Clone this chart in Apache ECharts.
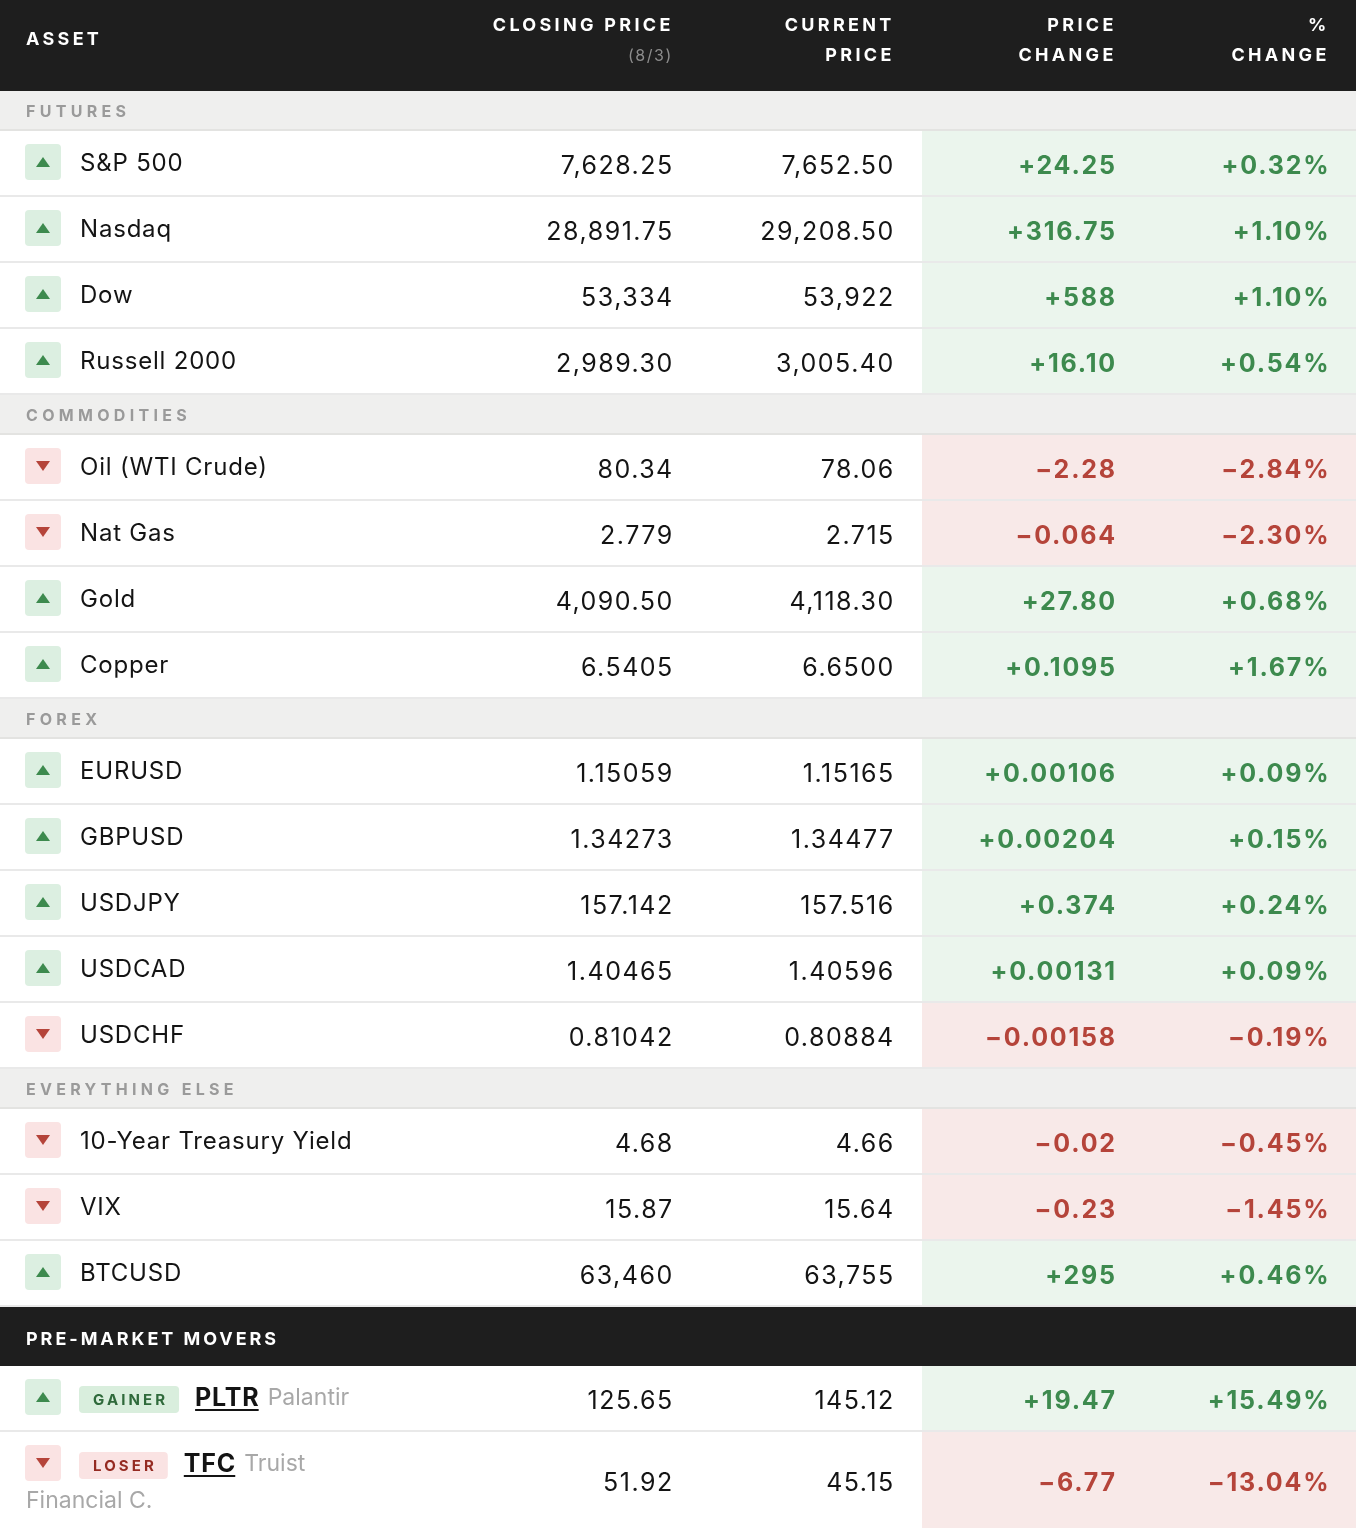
<!DOCTYPE html>
<html><head><meta charset="utf-8">
<script src="https://cdn.jsdelivr.net/npm/echarts@6/dist/echarts.min.js"></script>
<style>html,body{margin:0;padding:0;background:#fff}#chart{width:1356px;height:1528px}</style>
</head><body><div id="chart"></div>
<script>
// ---------------- DATA ----------------
const columnHeaders = [['ASSET'], ['CLOSING PRICE', '(8/3)'], ['CURRENT', 'PRICE'], ['PRICE', 'CHANGE'], ['%', 'CHANGE']];
const sectionNames = ['FUTURES', 'COMMODITIES', 'FOREX', 'EVERYTHING ELSE'];
const sectionSizes = [4, 4, 5, 3];
const assetNames = ['S&P 500', 'Nasdaq', 'Dow', 'Russell 2000', 'Oil (WTI Crude)', 'Nat Gas', 'Gold', 'Copper',
  'EURUSD', 'GBPUSD', 'USDJPY', 'USDCAD', 'USDCHF', '10-Year Treasury Yield', 'VIX', 'BTCUSD'];
const closingPrice = [7628.25, 28891.75, 53334, 2989.30, 80.34, 2.779, 4090.50, 6.5405,
  1.15059, 1.34273, 157.142, 1.40465, 0.81042, 4.68, 15.87, 63460];
const currentPrice = [7652.50, 29208.50, 53922, 3005.40, 78.06, 2.715, 4118.30, 6.6500,
  1.15165, 1.34477, 157.516, 1.40596, 0.80884, 4.66, 15.64, 63755];
const priceChange = [24.25, 316.75, 588, 16.10, -2.28, -0.064, 27.80, 0.1095,
  0.00106, 0.00204, 0.374, 0.00131, -0.00158, -0.02, -0.23, 295];
const pctChange = [0.32, 1.10, 1.10, 0.54, -2.84, -2.30, 0.68, 1.67,
  0.09, 0.15, 0.24, 0.09, -0.19, -0.45, -1.45, 0.46];
const priceDecimals = [2, 2, 0, 2, 2, 3, 2, 4, 5, 5, 3, 5, 5, 2, 2, 0];

const moversTitle = 'PRE-MARKET MOVERS';
const moverTags = ['GAINER', 'LOSER'];
const moverTickers = ['PLTR', 'TFC'];
const moverCompanies = ['Palantir', 'Truist Financial C.'];
const moverClosing = [125.65, 51.92];
const moverCurrent = [145.12, 45.15];
const moverChange = [19.47, -6.77];
const moverPct = [15.49, -13.04];
const moverDecimals = [2, 2];

// ---------------- STYLE / LAYOUT ----------------
const W = 1356, H = 1528;
const FONT = "Inter, 'Noto Sans', 'DejaVu Sans', sans-serif";
const HEADER_H = 91, SECTION_H = 40, ROW_H = 66, MOVERS_HEAD_H = 59, MOVER_ROW_H = [66, 97];
const COL_RIGHT = [672, 893, 1115, 1328];
const VAL_RIGHT = [673, 894, 1116, 1329.5];
const CHANGE_BG_X = 922;
const C = {
  dark: '#1e1e1e', section: '#efefee', sectionLine: '#e3e3e1', rowLine: '#e9e9e9',
  text: '#141414', grey: '#9a9a9a', company: '#a8a8a8', sub: '#8c8c8c',
  up: '#3d8a4e', upBg: '#ebf5ed', upIcon: '#dcefe1', upTag: '#2f6a3b', upTagBg: '#d9eedd',
  down: '#b5443a', downBg: '#f8e9e8', downIcon: '#fae3e3', downTag: '#952b22', downTagBg: '#fae3e3'
};
// letter spacing (tracking) per style, px
const TRACK = { header: 3.3, sub: 1.5, section: 4.3, movers: 2.95, tag: 3.1, name: 0.8, num: 1.5, chg: 1.8, ticker: 0.8, plain: 0.01 };

// canvas letter-spacing for tracked text (each text stays one real string)
const LS = new Map();
function tracked(s, px) { LS.set(s, px); return s; }
const _fill = CanvasRenderingContext2D.prototype.fillText;
CanvasRenderingContext2D.prototype.fillText = function (t, x, y, mw) {
  const ls = LS.has(String(t)) ? LS.get(String(t)) : TRACK.plain;
  let dx = 0;
  if ('letterSpacing' in this) {
    this.letterSpacing = ls + 'px';
    if (this.textAlign === 'right' || this.textAlign === 'end') dx = ls * 0.5;
  }
  return (mw === undefined) ? _fill.call(this, t, x + dx, y) : _fill.call(this, t, x + dx, y, mw);
};

const mctx = document.createElement('canvas').getContext('2d');
function textW(txt, font, ls) { mctx.font = font; return mctx.measureText(txt).width + (ls || 0) * Math.max(0, txt.length - 1); }
function fmt(v, d) { return Math.abs(v).toLocaleString('en-US', { minimumFractionDigits: d, maximumFractionDigits: d }); }
function signed(v, d) { return (v >= 0 ? '+' : '\u2212') + fmt(v, d); }

// build row list
const rows = [];
let yy = 0;
rows.push({ kind: 'header', y0: 0, y1: HEADER_H }); yy = HEADER_H;
let ai = 0;
sectionNames.forEach((s, si) => {
  rows.push({ kind: 'section', label: s, y0: yy, y1: yy + SECTION_H }); yy += SECTION_H;
  for (let k = 0; k < sectionSizes[si]; k++, ai++) {
    rows.push({ kind: 'asset', i: ai, y0: yy, y1: yy + ROW_H }); yy += ROW_H;
  }
});
rows.push({ kind: 'moversHead', y0: yy, y1: yy + MOVERS_HEAD_H }); yy += MOVERS_HEAD_H;
moverTickers.forEach((t, m) => { rows.push({ kind: 'mover', i: m, y0: yy, y1: yy + MOVER_ROW_H[m] }); yy += MOVER_ROW_H[m]; });

function txt(x, y, text, opt) {
  return { type: 'text', style: Object.assign({ x, y, text, fill: C.text, fontFamily: FONT, fontSize: 24, fontWeight: 400, align: 'left', verticalAlign: 'middle' }, opt || {}) };
}
function icon(x, cy, up) {
  const els = [{ type: 'rect', shape: { x: x, y: cy - 18, width: 36, height: 36, r: 4 }, style: { fill: up ? C.upIcon : C.downIcon } }];
  const tx = x + 18;
  const pts = up ? [[tx - 7, cy + 5], [tx + 7, cy + 5], [tx, cy - 5]] : [[tx - 7, cy - 5], [tx + 7, cy - 5], [tx, cy + 5]];
  els.push({ type: 'polygon', shape: { points: pts }, style: { fill: up ? C.up : C.down } });
  return els;
}
const NUM = { fontSize: 25, align: 'right' };

function valueCells(X, cy, closeV, curV, chgV, pctV, d) {
  const up = chgV >= 0;
  const cf = { align: 'right', fontWeight: 700, fontSize: 25, fill: up ? C.up : C.down };
  return [
    txt(X(VAL_RIGHT[0]), cy + 2.5, tracked(fmt(closeV, d), TRACK.num), NUM),
    txt(X(VAL_RIGHT[1]), cy + 2.5, tracked(fmt(curV, d), TRACK.num), NUM),
    txt(X(VAL_RIGHT[2]), cy + 2.5, tracked(signed(chgV, d), TRACK.chg), cf),
    txt(X(VAL_RIGHT[3]), cy + 2.5, tracked(signed(pctV, 2) + '%', TRACK.chg), cf)
  ];
}

function renderItem(params, api) {
  const r = rows[api.value(3)];
  const X = v => api.coord([v, 0])[0];
  const Y = v => api.coord([0, v])[1];
  const x0 = X(0), x1 = X(W), y0 = Y(api.value(1)), y1 = Y(api.value(2));
  let els = [];
  if (r.kind === 'header') {
    els.push({ type: 'rect', shape: { x: x0, y: y0, width: x1 - x0, height: y1 - y0 }, style: { fill: C.dark } });
    const hf = { fill: '#ffffff', fontWeight: 700, fontSize: 18 };
    els.push(txt(X(26), Y(40), tracked(columnHeaders[0][0], TRACK.header), hf));
    for (let c = 1; c < columnHeaders.length; c++) {
      const lines = columnHeaders[c];
      els.push(txt(X(COL_RIGHT[c - 1]), Y(25.5), tracked(lines[0], TRACK.header), Object.assign({}, hf, { align: 'right' })));
      if (c === 1) {
        els.push(txt(X(COL_RIGHT[0]), Y(56), tracked(lines[1], TRACK.sub), { fill: C.sub, fontSize: 16, align: 'right' }));
      } else {
        els.push(txt(X(COL_RIGHT[c - 1]), Y(55.5), tracked(lines[1], TRACK.header), Object.assign({}, hf, { align: 'right' })));
      }
    }
  } else if (r.kind === 'section') {
    els.push({ type: 'rect', shape: { x: x0, y: y0, width: x1 - x0, height: y1 - y0 }, style: { fill: C.section } });
    els.push({ type: 'rect', shape: { x: x0, y: y1 - 2, width: x1 - x0, height: 2 }, style: { fill: C.sectionLine } });
    els.push(txt(X(26), (y0 + y1) / 2 + 1.5, tracked(r.label, TRACK.section), { fill: C.grey, fontWeight: 700, fontSize: 16 }));
  } else if (r.kind === 'asset') {
    const i = r.i, up = priceChange[i] >= 0, cy = (y0 + y1) / 2;
    els.push({ type: 'rect', shape: { x: X(CHANGE_BG_X), y: y0, width: x1 - X(CHANGE_BG_X), height: y1 - y0 }, style: { fill: up ? C.upBg : C.downBg } });
    els.push({ type: 'rect', shape: { x: x0, y: y1 - 2, width: x1 - x0, height: 2 }, style: { fill: C.rowLine } });
    icon(X(25), cy - 2, up).forEach(e => els.push(e));
    els.push(txt(X(80), cy - 0.5, tracked(assetNames[i], TRACK.name)));
    els = els.concat(valueCells(X, cy, closingPrice[i], currentPrice[i], priceChange[i], pctChange[i], priceDecimals[i]));
  } else if (r.kind === 'moversHead') {
    els.push({ type: 'rect', shape: { x: x0, y: y0, width: x1 - x0, height: y1 - y0 }, style: { fill: C.dark } });
    els.push(txt(X(26), (y0 + y1) / 2 + 3, tracked(moversTitle, TRACK.movers), { fill: '#ffffff', fontWeight: 700, fontSize: 18 }));
  } else if (r.kind === 'mover') {
    const m = r.i, up = moverChange[m] >= 0, cy = (y0 + y1) / 2;
    const ly = y0 + 33; // first text line
    els.push({ type: 'rect', shape: { x: X(CHANGE_BG_X), y: y0, width: x1 - X(CHANGE_BG_X), height: y1 - y0 }, style: { fill: up ? C.upBg : C.downBg } });
    if (m < moverTickers.length - 1) els.push({ type: 'rect', shape: { x: x0, y: y1 - 2, width: x1 - x0, height: 2 }, style: { fill: C.rowLine } });
    icon(X(25), ly - 2, up).forEach(e => els.push(e));
    // tag
    const tagText = tracked(moverTags[m], TRACK.tag);
    const tagW = textW(tagText, '700 15px ' + FONT, TRACK.tag) + 28;
    els.push({ type: 'rect', shape: { x: X(79), y: ly - 13, width: tagW, height: 27, r: 4 }, style: { fill: up ? C.upTagBg : C.downTagBg } });
    els.push(txt(X(79) + 14, ly + 1, tagText, { fontWeight: 700, fontSize: 15, fill: up ? C.upTag : C.downTag }));
    // ticker
    const tx = X(79) + tagW + 16;
    const tickText = tracked(moverTickers[m], TRACK.ticker);
    const tw = textW(tickText, '700 25px ' + FONT, TRACK.ticker);
    els.push(txt(tx, ly - 1, tickText, { fontWeight: 700, fontSize: 25, fill: '#141414' }));
    els.push({ type: 'rect', shape: { x: tx, y: ly + 10, width: tw, height: 2 }, style: { fill: '#141414' } });
    // company name with wrapping
    const compFont = '400 23px ' + FONT;
    const cx = tx + tw + 9;
    const limit = X(360);
    const words = moverCompanies[m].split(' ');
    const line1 = [], rest = [];
    let cur = cx;
    words.forEach(w => {
      const ww = textW((line1.length ? ' ' : '') + w, compFont);
      if (rest.length === 0 && cur + ww <= limit) { line1.push(w); cur += ww; } else rest.push(w);
    });
    els.push(txt(cx, ly - 1, tracked(line1.join(' '), TRACK.plain), { fontSize: 23, fill: C.company }));
    if (rest.length) els.push(txt(X(26), ly + 36, tracked(rest.join(' '), TRACK.plain), { fontSize: 23, fill: C.company }));
    els = els.concat(valueCells(X, cy, moverClosing[m], moverCurrent[m], moverChange[m], moverPct[m], moverDecimals[m]));
  }
  return { type: 'group', children: els };
}

const chart = echarts.init(document.getElementById('chart'), null, { renderer: 'canvas' });
chart.setOption({
  animation: false,
  backgroundColor: '#ffffff',
  grid: { left: 0, right: 0, top: 0, bottom: 0 },
  xAxis: { type: 'value', min: 0, max: W, show: false },
  yAxis: { type: 'value', min: 0, max: H, inverse: true, show: false },
  series: [{
    type: 'custom',
    coordinateSystem: 'cartesian2d',
    clip: false,
    silent: true,
    encode: { x: 0, y: [1, 2] },
    data: rows.map((r, idx) => [0, r.y0, r.y1, idx]),
    renderItem: renderItem
  }]
});
</script>
</body></html>
